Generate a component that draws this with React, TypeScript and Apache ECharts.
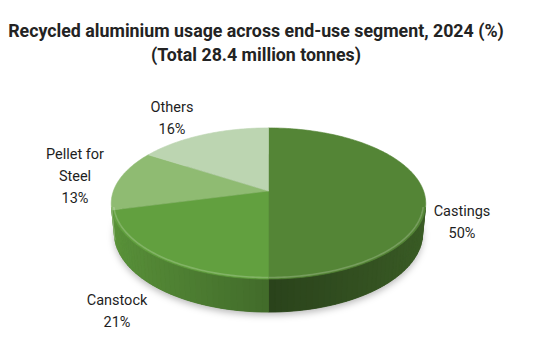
import React, { useEffect, useRef } from "react";
import * as echarts from "echarts";

// Segment shares of recycled aluminium usage (%)
const categories = ["Castings", "Canstock", "Pellet for\nSteel", "Others"];
const shares = [50, 21, 13, 16];
const titleLines = [
  "Recycled aluminium usage across end-use segment, 2024 (%)",
  "(Total 28.4 million tonnes)",
];

// Top-face colours per segment
const topColors = ["#548536", "#62a03f", "#8fbb72", "#bcd5b1"];

// Label anchors (centre of each text block)
const labelAnchors: [number, number][] = [
  [462, 222],
  [117, 311],
  [75, 176],
  [172, 118],
];

// Perspective camera for the tilted disc
const CX = 268.5;
const CY = 191;
const ALPHA = (28.3 * Math.PI) / 180;
const DIST = 5.32;
const FOCAL = 825;
const THICK = 0.219;

const rad = (d: number) => (d * Math.PI) / 180;

// theta: degrees clockwise from the far (12 o'clock) point; y: 0 top, -THICK bottom
function project(theta: number, y: number, r = 1): [number, number] {
  const t = rad(theta);
  const X = r * Math.sin(t);
  const Z = -r * Math.cos(t);
  const yc = y * Math.cos(ALPHA) - Z * Math.sin(ALPHA);
  const depth = DIST - (y * Math.sin(ALPHA) + Z * Math.cos(ALPHA));
  return [CX + (FOCAL * X) / depth, CY - (FOCAL * yc) / depth];
}

function shade(hex: string, k: number): string {
  const n = parseInt(hex.slice(1), 16);
  const c = [(n >> 16) & 255, (n >> 8) & 255, n & 255].map((v) =>
    Math.max(0, Math.min(255, Math.round(v * k)))
  );
  return `rgb(${c[0]},${c[1]},${c[2]})`;
}

function lighten(hex: string, a: number): string {
  const n = parseInt(hex.slice(1), 16);
  const c = [(n >> 16) & 255, (n >> 8) & 255, n & 255].map((v) =>
    Math.round(v + (255 - v) * a)
  );
  return `rgb(${c[0]},${c[1]},${c[2]})`;
}

// Side-wall brightness, light coming from the left
function sideLight(theta: number): number {
  if (theta >= 180) return 0.67 + 0.26 * Math.sin(rad(theta - 180));
  return 0.5 + 0.2 * Math.sin(rad(theta));
}

// Visible range of the outer wall
const visLimit = (Math.acos(1 / (DIST * Math.cos(ALPHA))) * 180) / Math.PI;
const VIS_MIN = 180 - visLimit;
const VIS_MAX = 180 + visLimit;

export default function App() {
  const ref = useRef<HTMLDivElement>(null);

  useEffect(() => {
    document.body.style.margin = "0";
    if (!ref.current) return;
    const chart = echarts.init(ref.current, undefined, { renderer: "svg" });
    const total = shares.reduce((a, b) => a + b, 0);

    const renderItem = (params: any, api: any) => {
      const i = params.dataIndex;
      const value = api.value(0);
      let before = 0;
      for (let j = 0; j < i; j++) before += shares[j];
      const a0 = (before / total) * 360;
      const a1 = a0 + (value / total) * 360;
      const base = topColors[i];
      const children: any[] = [];

      if (i === 0) {
        // soft drop shadow under the whole disc
        const pts: [number, number][] = [];
        for (let t = 0; t <= 360; t += 3) pts.push(project(t, -THICK));
        children.push({
          type: "polygon",
          shape: { points: pts },
          style: {
            fill: "#3a5e24",
            shadowBlur: 7,
            shadowColor: "rgba(0,0,0,0.28)",
            shadowOffsetY: 3,
          },
        });
      }

      // outer wall, split into thin strips for shading
      const s0 = Math.max(a0, VIS_MIN);
      const s1 = Math.min(a1, VIS_MAX);
      if (s1 > s0) {
        const steps = Math.max(2, Math.ceil((s1 - s0) / 2));
        for (let k = 0; k < steps; k++) {
          const t0 = s0 + ((s1 - s0) * k) / steps;
          const t1 = s0 + ((s1 - s0) * (k + 1)) / steps;
          const col = shade(base, sideLight((t0 + t1) / 2));
          children.push({
            type: "polygon",
            shape: {
              points: [
                project(t0, 0),
                project(t1, 0),
                project(t1, -THICK),
                project(t0, -THICK),
              ],
            },
            style: { fill: col, stroke: col, lineWidth: 0.8 },
          });
        }
      }

      // top face
      const top: [number, number][] = [project(0, 0, 0)];
      const n = Math.max(2, Math.ceil(a1 - a0));
      for (let k = 0; k <= n; k++) top.push(project(a0 + ((a1 - a0) * k) / n, 0));
      children.push({
        type: "polygon",
        shape: { points: top },
        style: { fill: base, stroke: base, lineWidth: 0.6 },
      });

      // bevel highlight along the near rim
      if (s1 > s0) {
        const rim: [number, number][] = [];
        const m = Math.max(2, Math.ceil(s1 - s0));
        for (let k = 0; k <= m; k++) rim.push(project(s0 + ((s1 - s0) * k) / m, 0, 0.985));
        children.push({
          type: "polyline",
          shape: { points: rim },
          style: { stroke: lighten(base, 0.22), lineWidth: 1.6, fill: "none", opacity: 0.9 },
        });
      }

      return { type: "group", children };
    };

    const titleGraphics = titleLines.map((t, k) => ({
      type: "text",
      x: 256,
      y: k === 0 ? 30 : 54,
      style: {
        text: t,
        fontFamily: "Roboto",
        fontSize: 17.8,
        fontWeight: "bold",
        fill: "#232323",
        align: "center",
        verticalAlign: "middle",
      },
    }));

    const labelGraphics = categories.map((c, k) => ({
      type: "text",
      x: labelAnchors[k][0],
      y: labelAnchors[k][1],
      style: {
        text: `${c}\n${shares[k]}%`,
        fontFamily: "Roboto",
        fontSize: 14.5,
        lineHeight: 22,
        fill: "#1e1e1e",
        align: "center",
        verticalAlign: "middle",
      },
    }));

    chart.setOption({
      animation: false,
      backgroundColor: "#ffffff",
      series: [
        {
          type: "custom",
          coordinateSystem: "none",
          data: shares.map((v, k) => ({ value: v, name: categories[k] })),
          renderItem,
        },
      ],
      graphic: [...titleGraphics, ...labelGraphics],
    });

    return () => chart.dispose();
  }, []);

  return <div ref={ref} style={{ width: 550, height: 355 }} />;
}
